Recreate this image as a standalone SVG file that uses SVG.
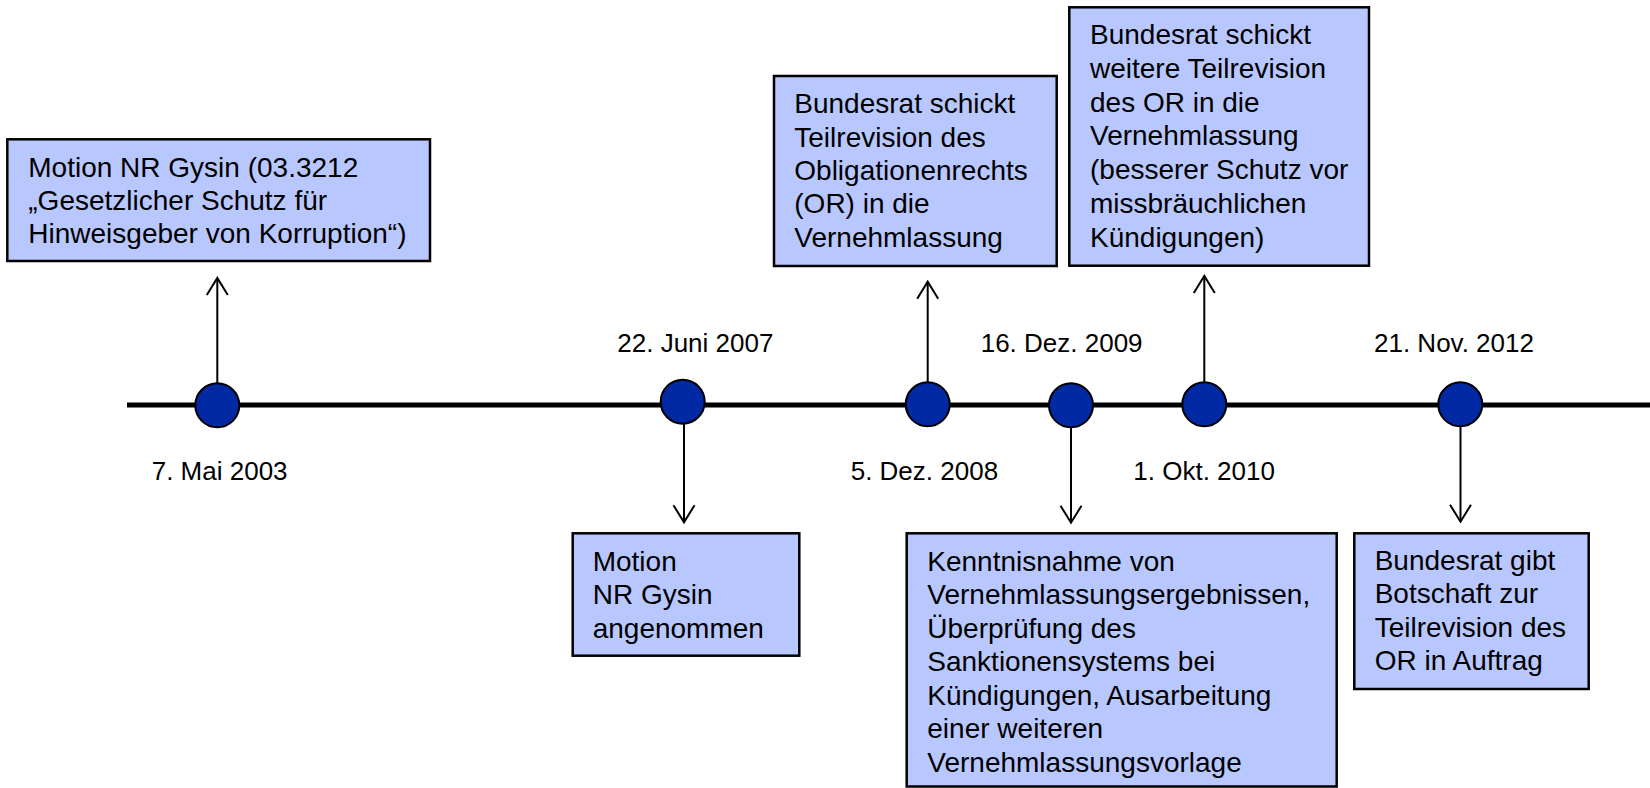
<svg xmlns="http://www.w3.org/2000/svg" width="1650" height="788" viewBox="0 0 1650 788">
<style>
.box{fill:#B8C8FF;stroke:#000;stroke-width:2.5}
.bt{font-family:"Liberation Sans",Arial,sans-serif;font-size:28px;fill:#000}
.dt{font-family:"Liberation Sans",Arial,sans-serif;font-size:26px;fill:#000}
.ev{fill:#0029A3;stroke:#000;stroke-width:2}
.con{stroke:#000;stroke-width:2;fill:none}
</style>
<defs>
<marker id="arr" markerUnits="userSpaceOnUse" markerWidth="40" markerHeight="40" viewBox="-20 -20 40 40" refX="0" refY="0" orient="auto" overflow="visible">
<path d="M-17,-10.5 L0,0 L-17,10.5" fill="none" stroke="#000" stroke-width="2"/>
</marker>
<filter id="sh" x="-5%" y="-200%" width="110%" height="500%">
<feGaussianBlur stdDeviation="2"/>
</filter>
</defs>
<rect width="1650" height="788" fill="#fff"/>
<g id="timeline">
<line x1="129" y1="409" x2="1650" y2="409" stroke="#999" stroke-width="5" filter="url(#sh)"/>
<line x1="127" y1="405" x2="1650" y2="405" stroke="#000" stroke-width="5"/>
</g>
<g id="connectors">
<line class="con" x1="217.3" y1="405" x2="217.3" y2="278" marker-end="url(#arr)"/>
<line class="con" x1="927.7" y1="404" x2="927.7" y2="281.7" marker-end="url(#arr)"/>
<line class="con" x1="1204.3" y1="404" x2="1204.3" y2="276" marker-end="url(#arr)"/>
<line class="con" x1="684" y1="402" x2="684" y2="522.3" marker-end="url(#arr)"/>
<line class="con" x1="1071" y1="405" x2="1071" y2="522.7" marker-end="url(#arr)"/>
<line class="con" x1="1460.5" y1="404.5" x2="1460.5" y2="521.7" marker-end="url(#arr)"/>
</g>
<g id="ev2003"><circle class="ev" cx="217.3" cy="405.3" r="22"/><text class="dt" x="151.7" y="480">7. Mai 2003</text></g>
<g id="ev2007"><circle class="ev" cx="682.7" cy="401.7" r="22"/><text class="dt" x="617.3" y="351.7">22. Juni 2007</text></g>
<g id="ev2008"><circle class="ev" cx="927.7" cy="404.3" r="22"/><text class="dt" x="850.7" y="480">5. Dez. 2008</text></g>
<g id="ev2009"><circle class="ev" cx="1071" cy="405.3" r="22"/><text class="dt" x="980.7" y="351.7">16. Dez. 2009</text></g>
<g id="ev2010"><circle class="ev" cx="1204.3" cy="404.3" r="22"/><text class="dt" x="1133.3" y="480">1. Okt. 2010</text></g>
<g id="ev2012"><circle class="ev" cx="1460.3" cy="404.3" r="22"/><text class="dt" x="1374" y="352.3">21. Nov. 2012</text></g>
<g id="box1">
<rect class="box" x="7.3" y="139.3" width="422.7" height="121.7"/>
<text class="bt"><tspan x="28.3" y="176.7">Motion NR Gysin (03.3212</tspan><tspan x="28.3" y="210">„Gesetzlicher Schutz für</tspan><tspan x="28.3" y="243.3">Hinweisgeber von Korruption“)</tspan></text>
</g>
<g id="box2">
<rect class="box" x="774" y="76" width="282.7" height="190"/>
<text class="bt"><tspan x="794.3" y="113.3">Bundesrat schickt</tspan><tspan x="794.3" y="146.7">Teilrevision des</tspan><tspan x="794.3" y="180">Obligationenrechts</tspan><tspan x="794.3" y="213.3">(OR) in die</tspan><tspan x="794.3" y="246.7">Vernehmlassung</tspan></text>
</g>
<g id="box3">
<rect class="box" x="1069.3" y="7.3" width="299.7" height="258.4"/>
<text class="bt"><tspan x="1090" y="44.3">Bundesrat schickt</tspan><tspan x="1090" y="78">weitere Teilrevision</tspan><tspan x="1090" y="111.7">des OR in die</tspan><tspan x="1090" y="145.4">Vernehmlassung</tspan><tspan x="1090" y="179.1">(besserer Schutz vor</tspan><tspan x="1090" y="212.8">missbräuchlichen</tspan><tspan x="1090" y="246.5">Kündigungen)</tspan></text>
</g>
<g id="box4">
<rect class="box" x="572.7" y="533.3" width="226.6" height="122.4"/>
<text class="bt"><tspan x="592.7" y="570.7">Motion</tspan><tspan x="592.7" y="604.2">NR Gysin</tspan><tspan x="592.7" y="637.5">angenommen</tspan></text>
</g>
<g id="box5">
<rect class="box" x="906.7" y="533.3" width="430" height="253.2"/>
<text class="bt"><tspan x="927.3" y="570.7">Kenntnisnahme von</tspan><tspan x="927.3" y="604.2">Vernehmlassungsergebnissen,</tspan><tspan x="927.3" y="637.7">Überprüfung des</tspan><tspan x="927.3" y="671.2">Sanktionensystems bei</tspan><tspan x="927.3" y="704.7">Kündigungen, Ausarbeitung</tspan><tspan x="927.3" y="738.2">einer weiteren</tspan><tspan x="927.3" y="771.7">Vernehmlassungsvorlage</tspan></text>
</g>
<g id="box6">
<rect class="box" x="1354.3" y="533.3" width="234.4" height="155.7"/>
<text class="bt"><tspan x="1374.7" y="569.7">Bundesrat gibt</tspan><tspan x="1374.7" y="603.2">Botschaft zur</tspan><tspan x="1374.7" y="636.7">Teilrevision des</tspan><tspan x="1374.7" y="670.2">OR in Auftrag</tspan></text>
</g>
</svg>
